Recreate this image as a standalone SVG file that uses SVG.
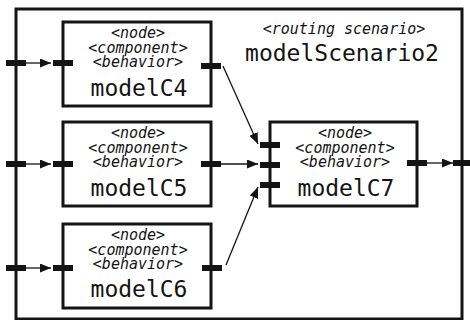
<svg xmlns="http://www.w3.org/2000/svg" width="470" height="320" viewBox="0 0 470 320">
  <style>
    .frame { fill: none; stroke: #141414; stroke-width: 3; }
    .box { fill: #ffffff; stroke: #141414; stroke-width: 3; }
    .port { fill: #141414; }
    .wire { fill: none; stroke: #141414; stroke-width: 1.3; marker-end: url(#arrow); }
    text { font-family: "DejaVu Sans Mono", "Liberation Mono", monospace; fill: #141414; text-anchor: middle; }
    .st { font-size: 15px; font-style: italic; }
    .nm { font-size: 23px; }
  </style>
  <defs>
    <marker id="arrow" markerUnits="userSpaceOnUse" markerWidth="11" markerHeight="9" refX="11" refY="4.5" orient="auto">
      <path d="M0,0 L11,4.5 L0,9 Z" fill="#141414"/>
    </marker>
  </defs>

  <!-- routing scenario frame -->
  <g id="modelScenario2">
    <rect class="frame" x="16" y="9" width="446" height="310"/>
    <text class="st" x="344" y="34">&lt;routing scenario&gt;</text>
    <text class="nm" x="342" y="61">modelScenario2</text>
    <rect class="port" x="6" y="60" width="20" height="6"/>
    <rect class="port" x="6" y="161" width="20" height="6"/>
    <rect class="port" x="6" y="265" width="20" height="6"/>
    <rect class="port" x="453" y="160" width="20" height="6"/>
  </g>

  <g id="modelC4">
    <rect class="box" x="63" y="22" width="148" height="84"/>
    <text class="st" x="138" y="38">&lt;node&gt;</text>
    <text class="st" x="138" y="52.5">&lt;component&gt;</text>
    <text class="st" x="138" y="67">&lt;behavior&gt;</text>
    <text class="nm" x="139" y="96">modelC4</text>
    <rect class="port" x="53" y="60" width="20" height="6"/>
    <rect class="port" x="201" y="63" width="20" height="6"/>
  </g>

  <g id="modelC5">
    <rect class="box" x="63" y="122" width="148" height="84"/>
    <text class="st" x="138" y="138">&lt;node&gt;</text>
    <text class="st" x="138" y="152.5">&lt;component&gt;</text>
    <text class="st" x="138" y="167">&lt;behavior&gt;</text>
    <text class="nm" x="139" y="196">modelC5</text>
    <rect class="port" x="53" y="161" width="20" height="6"/>
    <rect class="port" x="201" y="161" width="20" height="6"/>
  </g>

  <g id="modelC6">
    <rect class="box" x="63" y="224" width="148" height="84"/>
    <text class="st" x="138" y="240">&lt;node&gt;</text>
    <text class="st" x="138" y="254.5">&lt;component&gt;</text>
    <text class="st" x="138" y="269">&lt;behavior&gt;</text>
    <text class="nm" x="139" y="297">modelC6</text>
    <rect class="port" x="53" y="265" width="20" height="6"/>
    <rect class="port" x="202" y="265" width="20" height="6"/>
  </g>

  <g id="modelC7">
    <rect class="box" x="270" y="122" width="147" height="84"/>
    <text class="st" x="345" y="138">&lt;node&gt;</text>
    <text class="st" x="345" y="152.5">&lt;component&gt;</text>
    <text class="st" x="345" y="167">&lt;behavior&gt;</text>
    <text class="nm" x="346" y="196">modelC7</text>
    <rect class="port" x="260" y="142" width="20" height="6"/>
    <rect class="port" x="260" y="162" width="20" height="6"/>
    <rect class="port" x="260" y="182" width="20" height="6"/>
    <rect class="port" x="407" y="160" width="20" height="6"/>
  </g>

  <!-- connectors -->
  <g id="connectors">
    <line class="wire" x1="26" y1="63" x2="51" y2="63"/>
    <line class="wire" x1="26" y1="164" x2="51" y2="164"/>
    <line class="wire" x1="26" y1="268" x2="51" y2="268"/>
    <line class="wire" x1="223" y1="66" x2="258" y2="144"/>
    <line class="wire" x1="221" y1="164" x2="258" y2="164"/>
    <line class="wire" x1="226" y1="265" x2="258" y2="187"/>
    <line class="wire" x1="427" y1="163" x2="453" y2="163"/>
  </g>
</svg>
